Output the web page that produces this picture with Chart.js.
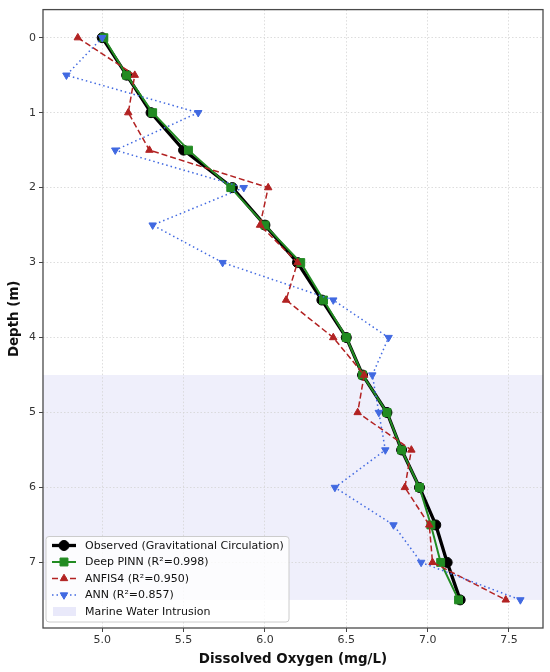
<!DOCTYPE html>
<html>
<head>
<meta charset="utf-8">
<script src="https://cdn.jsdelivr.net/npm/chart.js@4.4.1/dist/chart.umd.min.js"></script>
<style>
  html, body { margin: 0; padding: 0; background: #ffffff; }
  #wrap { width: 550px; height: 672px; }
</style>
</head>
<body>
<div id="wrap"><canvas id="c" width="550" height="672"></canvas></div>
<script>
// ---- data ----
const depths   = [0, 0.5, 1, 1.5, 2, 2.5, 3, 3.5, 4, 4.5, 5, 5.5, 6, 6.5, 7, 7.5];
const observed = [5.00, 5.15, 5.30, 5.50, 5.80, 6.00, 6.20, 6.35, 6.50, 6.60, 6.75, 6.84, 6.95, 7.05, 7.12, 7.20];
const deepPinn = [5.01, 5.15, 5.31, 5.53, 5.79, 6.00, 6.22, 6.36, 6.50, 6.60, 6.75, 6.84, 6.95, 7.02, 7.08, 7.19];
const anfis4   = [4.85, 5.20, 5.16, 5.29, 6.02, 5.97, 6.20, 6.13, 6.42, 6.61, 6.57, 6.90, 6.86, 7.01, 7.03, 7.48];
const ann      = [5.00, 4.78, 5.59, 5.08, 5.87, 5.31, 5.74, 6.42, 6.76, 6.66, 6.70, 6.74, 6.43, 6.79, 6.96, 7.57];
const intrusion = [4.5, 7.5];
const xTicks = [5.0, 5.5, 6.0, 6.5, 7.0, 7.5];
const yTicks = [0, 1, 2, 3, 4, 5, 6, 7];
const seriesLabels = ["Observed (Gravitational Circulation)", "Deep PINN (R\u00b2=0.998)", "ANFIS4 (R\u00b2=0.950)", "ANN (R\u00b2=0.857)"];
const shadeLabel = "Marine Water Intrusion";
const xTitle = "Dissolved Oxygen (mg/L)";
const yTitle = "Depth (m)";

const FONT = "'DejaVu Sans', 'Liberation Sans', sans-serif";
const SHADE = "#EFEFFB";
const styles = [
  {color: "#000000", width: 3.3, dash: [],       marker: "circle",   r: 5,   rot: 0},
  {color: "#228B22", width: 2,   dash: [],       marker: "rect",     r: 5.6, rot: 0},
  {color: "#B22222", width: 1.5, dash: [6, 3],   marker: "triangle", r: 4.3, rot: 0},
  {color: "#4169E1", width: 1.5, dash: [1.5, 3], marker: "triangle", r: 4.3, rot: 180}
];
const seriesValues = [observed, deepPinn, anfis4, ann];

const datasets = seriesValues.map((vals, i) => ({
  label: seriesLabels[i],
  data: vals.map((v, k) => ({x: v, y: depths[k]})),
  borderColor: styles[i].color,
  backgroundColor: styles[i].color,
  borderWidth: styles[i].width,
  borderDash: styles[i].dash,
  pointStyle: styles[i].marker,
  pointRadius: styles[i].r,
  pointRotation: styles[i].rot,
  pointBorderWidth: 1,
  pointBorderColor: styles[i].color,
  pointBackgroundColor: styles[i].color,
  tension: 0,
  fill: false,
  showLine: true,
  order: 4 - i
}));

function drawMarker(ctx, style, x, y) {
  ctx.save();
  ctx.setLineDash([]);
  ctx.fillStyle = style.color;
  ctx.strokeStyle = style.color;
  ctx.lineWidth = 1;
  ctx.beginPath();
  const r = style.r;
  if (style.marker === "circle") {
    ctx.arc(x, y, r, 0, Math.PI * 2);
  } else if (style.marker === "rect") {
    const s = r * Math.SQRT1_2;
    ctx.rect(x - s, y - s, 2 * s, 2 * s);
  } else {
    let a = style.rot * Math.PI / 180;
    for (let k = 0; k < 3; k++) {
      const px = x + Math.sin(a) * r, py = y - Math.cos(a) * r;
      if (k === 0) ctx.moveTo(px, py); else ctx.lineTo(px, py);
      a += 2 * Math.PI / 3;
    }
    ctx.closePath();
  }
  ctx.fill();
  ctx.stroke();
  ctx.restore();
}

const customPlugin = {
  id: "custom",
  beforeDraw(chart) {
    const {ctx, chartArea: a, scales: {y}} = chart;
    const y1 = y.getPixelForValue(intrusion[0]);
    const y2 = y.getPixelForValue(intrusion[1]);
    ctx.save();
    ctx.fillStyle = SHADE;
    ctx.fillRect(a.left, Math.min(y1, y2), a.right - a.left, Math.abs(y2 - y1));
    ctx.restore();
  },
  afterDatasetsDraw(chart) {
    const {ctx, chartArea: a} = chart;
    ctx.save();
    ctx.strokeStyle = "#4a4a4a";
    ctx.lineWidth = 1.3;
    ctx.strokeRect(a.left, a.top, a.right - a.left, a.bottom - a.top);
    ctx.restore();
  },
  afterDraw(chart) {
    const {ctx, chartArea: a} = chart;
    const bx = a.left + 3, by = 536.5, bw = 243, bh = 85.5;
    ctx.save();
    ctx.fillStyle = "rgba(255,255,255,0.8)";
    ctx.strokeStyle = "#cccccc";
    ctx.lineWidth = 1;
    ctx.beginPath();
    ctx.roundRect(bx, by, bw, bh, 3);
    ctx.fill();
    ctx.stroke();
    const rowH = 16.5;
    const hx1 = bx + 6, hx2 = bx + 30, tx = bx + 39;
    ctx.font = "11px " + FONT;
    ctx.textBaseline = "middle";
    for (let i = 0; i < 4; i++) {
      const yy = by + 9 + i * rowH;
      const s = styles[i];
      ctx.strokeStyle = s.color;
      ctx.lineWidth = s.width;
      ctx.setLineDash(s.dash);
      ctx.beginPath();
      ctx.moveTo(hx1, yy);
      ctx.lineTo(hx2, yy);
      ctx.stroke();
      ctx.setLineDash([]);
      drawMarker(ctx, s, (hx1 + hx2) / 2, yy);
      ctx.fillStyle = "#111111";
      ctx.fillText(seriesLabels[i], tx, yy + 0.5);
    }
    const yy = by + 9 + 4 * rowH;
    ctx.fillStyle = "#E9E9FA";
    ctx.fillRect(hx1 + 1, yy - 4.5, hx2 - hx1 - 1, 9);
    ctx.fillStyle = "#111111";
    ctx.fillText(shadeLabel, tx, yy + 0.5);
    ctx.restore();
  }
};

new Chart(document.getElementById("c"), {
  type: "scatter",
  data: {datasets},
  options: {
    responsive: false,
    animation: false,
    devicePixelRatio: 1,
    layout: {padding: {top: 6.5, right: 7, left: 0, bottom: 0}},
    plugins: {legend: {display: false}, tooltip: {enabled: false}},
    elements: {line: {tension: 0}},
    scales: {
      x: {
        type: "linear",
        min: 4.636, max: 7.709,
        afterBuildTicks: s => { s.ticks = xTicks.map(v => ({value: v})); },
        afterFit: s => { s.height = 44; },
        ticks: {
          font: {family: FONT, size: 11}, color: "#333333", padding: 2,
          callback: v => Number(v).toFixed(1), maxRotation: 0, autoSkip: false
        },
        grid: {color: "#d4d4d4", lineWidth: 0.8, tickColor: "#444444", tickLength: 4, tickWidth: 1},
        border: {display: false, dash: [1.5, 2]},
        title: {display: true, text: xTitle, font: {family: FONT, size: 13.4, weight: "bold"}, color: "#111111", padding: {top: 2, bottom: 4}}
      },
      y: {
        type: "linear",
        reverse: true,
        min: -0.375, max: 7.875,
        afterBuildTicks: s => { s.ticks = yTicks.map(v => ({value: v})); },
        afterFit: s => { s.width = 43; },
        ticks: {font: {family: FONT, size: 11}, color: "#333333", padding: 3, callback: v => String(v), autoSkip: false},
        grid: {color: "#d4d4d4", lineWidth: 0.8, tickColor: "#444444", tickLength: 4, tickWidth: 1},
        border: {display: false, dash: [1.5, 2]},
        title: {display: true, text: yTitle, font: {family: FONT, size: 13.4, weight: "bold"}, color: "#111111", padding: {top: 6, bottom: 2}}
      }
    }
  },
  plugins: [customPlugin]
});
</script>
</body>
</html>
